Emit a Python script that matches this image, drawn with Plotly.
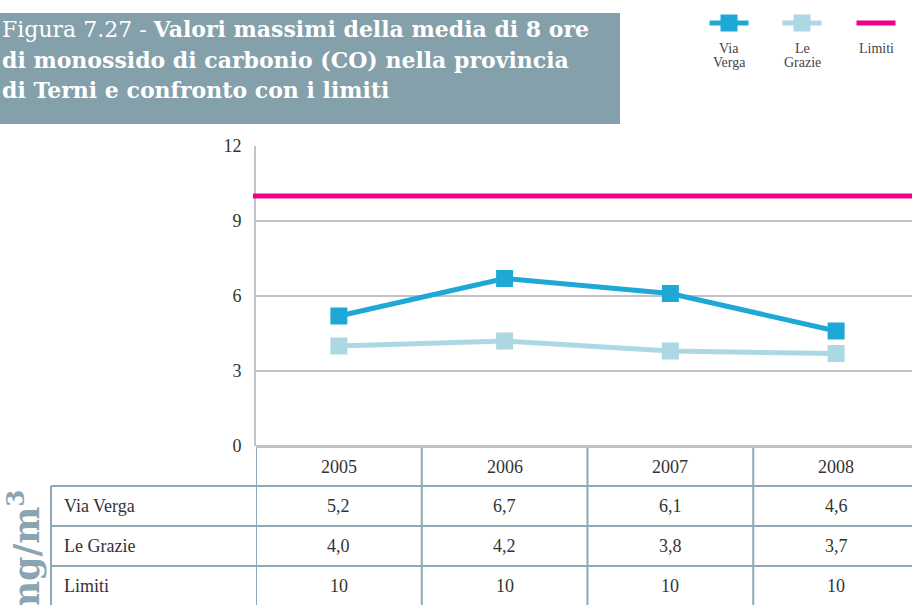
import plotly.graph_objects as go

# ---------------- data ----------------
years = ["2005", "2006", "2007", "2008"]
via_verga = [5.2, 6.7, 6.1, 4.6]
le_grazie = [4.0, 4.2, 3.8, 3.7]
limiti = [10, 10, 10, 10]
series_names = ["Via Verga", "Le Grazie", "Limiti"]
legend_lines = [["Via", "Verga"], ["Le", "Grazie"], ["Limiti"]]
y_ticks = [0, 3, 6, 9, 12]

# ---------------- style ----------------
W, H = 912, 605
C_VV = "#1ea8d5"
C_LG = "#acd8e4"
C_LIM = "#ec008c"
C_GRID = "#c3c3c7"
C_TAB = "#8fa8b5"
C_TITLE_BG = "#84a0ab"
C_TEXT = "#333333"
SERIF = "Liberation Serif, Times New Roman, serif"
SLAB = "DejaVu Serif, serif"


def px(x):
    return x / W


def py(y):
    return 1 - y / H


fig = go.Figure()
xs = list(range(len(years)))

fig.add_trace(go.Scatter(x=xs, y=le_grazie, mode="lines+markers", name=series_names[1],
                         line=dict(color=C_LG, width=5),
                         marker=dict(symbol="square", size=17, color=C_LG)))
fig.add_trace(go.Scatter(x=xs, y=via_verga, mode="lines+markers", name=series_names[0],
                         line=dict(color=C_VV, width=5),
                         marker=dict(symbol="square", size=17, color=C_VV)))

shapes = []
annotations = []

# limit line across the plot area (value from data)
shapes.append(dict(type="line", xref="paper", yref="y", x0=px(253), x1=1,
                   y0=limiti[0], y1=limiti[0], line=dict(color=C_LIM, width=5), layer="above"))

# ---- title box ----
shapes.append(dict(type="rect", xref="paper", yref="paper", x0=0, x1=px(620),
                   y0=py(124), y1=py(13), fillcolor=C_TITLE_BG, line=dict(width=0), layer="below"))
title_lines = [
    "Figura 7.27 - <b>Valori massimi della media di 8 ore</b>",
    "<b>di monossido di carbonio (CO) nella provincia</b>",
    "<b>di Terni e confronto con i limiti</b>",
]
for i, t in enumerate(title_lines):
    annotations.append(dict(text=t, xref="paper", yref="paper", x=px(0), y=py(29 + 30.5 * i),
                            xanchor="left", yanchor="middle", showarrow=False,
                            font=dict(family=SLAB, size=22, color="white")))

# ---- custom legend ----
leg = [(729, C_VV, True), (802, C_LG, True), (876, C_LIM, False)]
for (cx, col, sq), lines in zip(leg, legend_lines):
    shapes.append(dict(type="line", xref="paper", yref="paper", x0=px(cx - 19.5), x1=px(cx + 19.5),
                       y0=py(23), y1=py(23), line=dict(color=col, width=5)))
    if sq:
        shapes.append(dict(type="rect", xref="paper", yref="paper", x0=px(cx - 8.5), x1=px(cx + 8.5),
                           y0=py(31.5), y1=py(14.5), fillcolor=col, line=dict(width=0)))
    for j, ln in enumerate(lines):
        annotations.append(dict(text=ln, xref="paper", yref="paper", x=px(cx), y=py(48 + 15 * j),
                                xanchor="center", yanchor="middle", showarrow=False,
                                font=dict(family=SERIF, size=14, color="#444444")))

# ---- table ----
tab_top, head_bot = 448, 486
row_h = 40
# vertical lines at category boundaries
for k in range(len(years)):
    shapes.append(dict(type="line", xref="x", yref="paper", x0=k - 0.5, x1=k - 0.5,
                       y0=py(tab_top), y1=0, line=dict(color=C_TAB, width=2)))
# label column left border
shapes.append(dict(type="line", xref="paper", yref="paper", x0=px(51), x1=px(51),
                   y0=py(head_bot), y1=0, line=dict(color=C_TAB, width=2)))
# horizontal row lines
for r in range(3):
    yy = head_bot + r * row_h
    shapes.append(dict(type="line", xref="paper", yref="paper", x0=px(51), x1=1,
                       y0=py(yy), y1=py(yy), line=dict(color=C_TAB, width=2)))

# header years
for k, yr in enumerate(years):
    annotations.append(dict(text=yr, xref="x", yref="paper", x=k, y=py(467), xanchor="center",
                            yanchor="middle", showarrow=False,
                            font=dict(family=SERIF, size=18, color=C_TEXT)))

rows = [(series_names[0], via_verga, 1), (series_names[1], le_grazie, 1), (series_names[2], limiti, 0)]
for r, (name, vals, dec) in enumerate(rows):
    yc = head_bot + r * row_h + row_h / 2
    annotations.append(dict(text=name, xref="paper", yref="paper", x=px(62), y=py(yc), xanchor="left",
                            yanchor="middle", showarrow=False,
                            font=dict(family=SERIF, size=18, color=C_TEXT)))
    for k, v in enumerate(vals):
        txt = f"{v:.{dec}f}".replace(".", ",")
        annotations.append(dict(text=txt, xref="x", yref="paper", x=k, y=py(yc), xanchor="center",
                                yanchor="middle", showarrow=False,
                                font=dict(family=SERIF, size=18, color=C_TEXT)))

# unit label
annotations.append(dict(text="<b>mg/m<sup>3</sup></b>", xref="paper", yref="paper", x=px(24), y=py(488),
                        xanchor="center", yanchor="top", textangle=-90, showarrow=False,
                        font=dict(family=SLAB, size=35, color="#8aa4b2")))

fig.update_layout(
    width=W, height=H,
    margin=dict(l=0, r=0, t=0, b=0, pad=0),
    paper_bgcolor="white", plot_bgcolor="white",
    showlegend=False,
    shapes=shapes, annotations=annotations,
    xaxis=dict(domain=[px(256), 1], range=[-0.5, 3.5 - 7 / 166], showticklabels=False,
               showgrid=False, zeroline=False, showline=False, fixedrange=True, automargin=False),
    yaxis=dict(domain=[py(446), py(146)], range=[0, 12], tickvals=y_ticks,
               showgrid=True, gridcolor=C_GRID, gridwidth=2,
               zeroline=True, zerolinecolor=C_GRID, zerolinewidth=3,
               showline=True, linecolor=C_GRID, linewidth=2, automargin=False, fixedrange=True,
               ticks="", ticklabelstandoff=9,
               tickfont=dict(family=SERIF, size=18, color=C_TEXT)),
)

fig.write_html("out.html", config={"displayModeBar": False},
               post_script="document.body.style.margin='0';document.body.style.overflow='hidden';")
